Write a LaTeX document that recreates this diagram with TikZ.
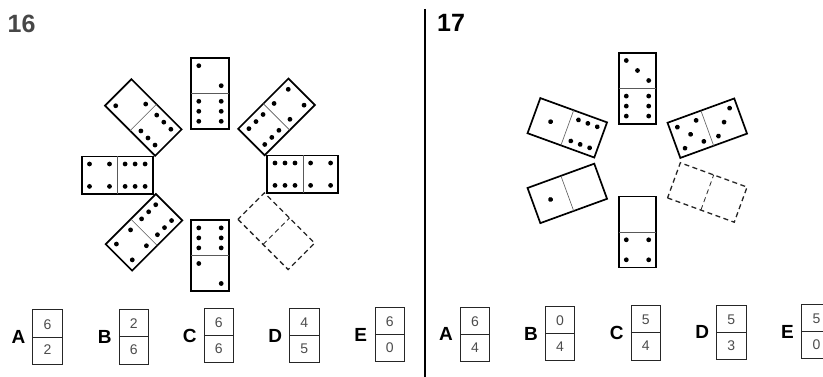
\documentclass[tikz,border=0pt]{standalone}
\usepackage{fontspec}
\setmainfont{Liberation Sans}
\newcommand\setpips[1]{\ifcase#1\def\curpips{}\or\def\curpips{0/0}\or\def\curpips{-1/-1,1/1}\or\def\curpips{-1/-1,0/0,1/1}\or\def\curpips{-1/-1,1/-1,-1/1,1/1}\or\def\curpips{-1/-1,1/-1,0/0,-1/1,1/1}\or\def\curpips{-1/-1,-1/0,-1/1,1/-1,1/0,1/1}\fi}
\newcommand\drawpips[2]{\setpips{#1}\ifnum#1>0 \foreach \px/\py in \curpips {\fill[pip] (\px*11.2,#2+\py*10) circle[radius=2.4pt];}\fi}
\newcommand\Domino[7]{%
\begin{scope}[shift={(#2,#3)},rotate=#4]
\coordinate (#1) at (0,0);
\ifnum#7=1
\draw[domdash] (-18.7,-35.5) rectangle (18.7,35.5);
\draw[domdash,line width=0.8pt] (-18.7,0) -- (18.7,0);
\else
\draw[dom] (-18.7,-35.5) rectangle (18.7,35.5);
\draw[divline] (-18.7,0) -- (18.7,0);
\fi
\drawpips{#5}{-17.8}\drawpips{#6}{17.8}
\end{scope}}
\newcommand\Ans[6]{%
\node[abox] (#1) at (#3,#4) {};
\draw[adiv] (#1.west) -- (#1.east);
\node[anum] (#1t) at (#3,#4-12.8) {#5};
\node[anum] (#1b) at (#3,#4+13) {#6};
\node[alet] (#1l) at (#3-29,#4) {#2};}
\begin{document}
\begin{tikzpicture}[x=1pt,y=-1pt,
  dom/.style={draw=black,line width=1.7pt},
  domdash/.style={draw=black!85,line width=1.3pt,dash pattern=on 5pt off 3.5pt},
  divline/.style={draw=black!65,line width=0.6pt},
  pip/.style={fill=black},
  abox/.style={draw=black!85,line width=0.9pt,minimum width=29.5pt,minimum height=54.5pt,inner sep=0pt,outer sep=0pt},
  adiv/.style={draw=black!85,line width=0.9pt},
  anum/.style={font=\fontsize{14}{14}\selectfont,text=black!70,inner sep=0pt},
  alet/.style={font=\fontsize{19}{19}\selectfont\bfseries,inner sep=0pt},
  ttl/.style={font=\fontsize{25}{25}\selectfont\bfseries,inner sep=0pt,anchor=base west}]
\clip (0,0) rectangle (823,377);
\fill[white] (0,0) rectangle (823,377);
% titles
\node[ttl,text=black!72] (t16) at (7.5,32.3) {16};
\node[ttl] (t17) at (437,31.7) {17};
% separator
\coordinate (sepT) at (425,9);
\coordinate (sepB) at (425,377);
\draw[line width=1.4pt] (sepT) -- (sepB);
% puzzle 16
\Domino{d16t}{210}{93.5}{0}{2}{6}{0}
\Domino{d16b}{210}{255.7}{0}{6}{2}{0}
\Domino{d16l}{117.3}{175.2}{90}{4}{6}{0}
\Domino{d16r}{302.8}{174.2}{90}{6}{4}{0}
\Domino{d16ul}{143.3}{117.5}{45}{2}{6}{0}
\Domino{d16ur}{276.5}{116.9}{-45}{4}{6}{0}
\Domino{d16ll}{144}{232.3}{-45}{6}{4}{0}
\Domino{d16lr}{276.3}{231.2}{45}{0}{0}{1}
% puzzle 17
\Domino{d17t}{637.5}{88.3}{0}{3}{6}{0}
\Domino{d17b}{637.5}{232}{0}{0}{4}{0}
\Domino{d17ul}{567.3}{127.8}{70}{1}{6}{0}
\Domino{d17ur}{707.3}{128.2}{110}{5}{3}{0}
\Domino{d17ll}{567.3}{193.4}{110}{1}{0}{0}
\Domino{d17lr}{707.3}{192.5}{70}{0}{0}{1}
% answers 16
\Ans{a16A}{A}{47.5}{337}{6}{2}
\Ans{a16B}{B}{133.7}{336.7}{2}{6}
\Ans{a16C}{C}{218.7}{335.5}{6}{6}
\Ans{a16D}{D}{304.2}{335.5}{4}{5}
\Ans{a16E}{E}{389.7}{334.5}{6}{0}
% answers 17
\Ans{a17A}{A}{475}{334.2}{6}{4}
\Ans{a17B}{B}{560}{333.5}{0}{4}
\Ans{a17C}{C}{645.7}{332.8}{5}{4}
\Ans{a17D}{D}{731.3}{332.2}{5}{3}
\Ans{a17E}{E}{816.5}{331.5}{5}{0}
\end{tikzpicture}
\end{document}
